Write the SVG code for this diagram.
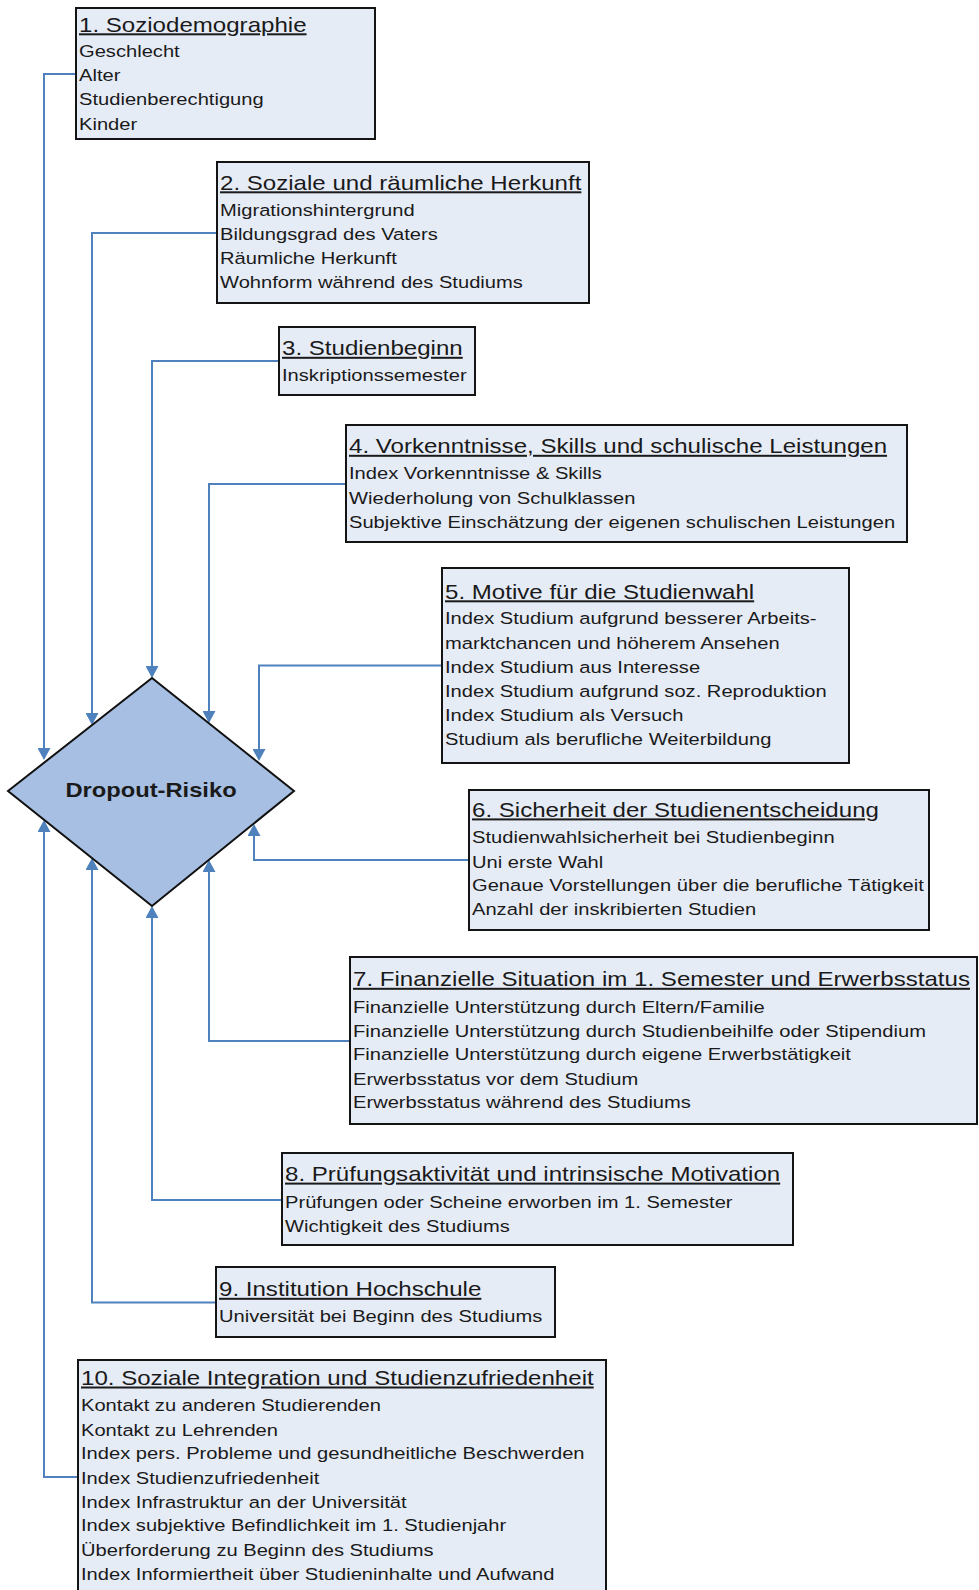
<svg xmlns="http://www.w3.org/2000/svg" width="979" height="1590" viewBox="0 0 979 1590">
<style>
.box{fill:#e6ecf6;stroke:#141414;stroke-width:2}
.dia{fill:#a7bfe2;stroke:#111;stroke-width:2}
text{font-family:"Liberation Sans",Arial,sans-serif;fill:#1a1a1a}
.h{font-size:20px;text-decoration:underline}
.b{font-size:17px}
.d{font-size:21px;font-weight:bold;text-anchor:middle}
.c{fill:none;stroke:#4f81bd;stroke-width:2}
</style>
<defs>
<marker id="ah" markerUnits="userSpaceOnUse" markerWidth="13" markerHeight="13" viewBox="0 0 12 13" refX="10" refY="6.5" orient="auto">
<path d="M0,0 L12,6.5 L0,13 Z" fill="#4f81bd"/>
</marker>
</defs>
<rect width="979" height="1590" fill="#fff"/>

<g id="connectors">
<path class="c" marker-end="url(#ah)" d="M76,74 H44 V758"/>
<path class="c" marker-end="url(#ah)" d="M217,233 H92 V723"/>
<path class="c" marker-end="url(#ah)" d="M279,361 H152 V676"/>
<path class="c" marker-end="url(#ah)" d="M346,484 H209 V721"/>
<path class="c" marker-end="url(#ah)" d="M442,665.5 H259 V759"/>
<path class="c" marker-end="url(#ah)" d="M469,860 H254 V826"/>
<path class="c" marker-end="url(#ah)" d="M350,1041 H209 V862"/>
<path class="c" marker-end="url(#ah)" d="M282,1200 H152 V908"/>
<path class="c" marker-end="url(#ah)" d="M216,1302.5 H92 V860"/>
<path class="c" marker-end="url(#ah)" d="M78,1477 H44 V822"/>
</g>

<g id="dropout">
<polygon class="dia" points="8,791 152,678 294,791 152,906"/>
<g transform="translate(151,797) scale(1.13,1)"><text class="d" x="0" y="0">Dropout-Risiko</text></g>
</g>

<g id="box1">
<rect class="box" x="76" y="8" width="299" height="131"/>
<text class="h" transform="translate(79,31.5) scale(1.205,1)">1. Soziodemographie</text>
<g transform="translate(79,0) scale(1.185,1)">
<text class="b" y="57">Geschlecht</text>
<text class="b" y="81.2">Alter</text>
<text class="b" y="105.4">Studienberechtigung</text>
<text class="b" y="129.6">Kinder</text>
</g>
</g>

<g id="box2">
<rect class="box" x="217" y="162" width="372" height="141"/>
<text class="h" transform="translate(220,189.5) scale(1.205,1)">2. Soziale und räumliche Herkunft</text>
<g transform="translate(220,0) scale(1.185,1)">
<text class="b" y="216">Migrationshintergrund</text>
<text class="b" y="240">Bildungsgrad des Vaters</text>
<text class="b" y="264">Räumliche Herkunft</text>
<text class="b" y="288.5">Wohnform während des Studiums</text>
</g>
</g>

<g id="box3">
<rect class="box" x="279" y="327" width="196" height="68"/>
<text class="h" transform="translate(282,355) scale(1.205,1)">3. Studienbeginn</text>
<g transform="translate(282,0) scale(1.185,1)">
<text class="b" y="381">Inskriptionssemester</text>
</g>
</g>

<g id="box4">
<rect class="box" x="346" y="425" width="561" height="117"/>
<text class="h" transform="translate(349,453) scale(1.205,1)">4. Vorkenntnisse, Skills und schulische Leistungen</text>
<g transform="translate(349,0) scale(1.185,1)">
<text class="b" y="479.3">Index Vorkenntnisse &amp; Skills</text>
<text class="b" y="503.6">Wiederholung von Schulklassen</text>
<text class="b" y="528">Subjektive Einschätzung der eigenen schulischen Leistungen</text>
</g>
</g>

<g id="box5">
<rect class="box" x="442" y="568" width="407" height="195"/>
<text class="h" transform="translate(445,598.5) scale(1.205,1)">5. Motive für die Studienwahl</text>
<g transform="translate(445,0) scale(1.185,1)">
<text class="b" y="624.3">Index Studium aufgrund besserer Arbeits-</text>
<text class="b" y="648.6">marktchancen und höherem Ansehen</text>
<text class="b" y="672.9">Index Studium aus Interesse</text>
<text class="b" y="697.2">Index Studium aufgrund soz. Reproduktion</text>
<text class="b" y="721.5">Index Studium als Versuch</text>
<text class="b" y="745.5">Studium als berufliche Weiterbildung</text>
</g>
</g>

<g id="box6">
<rect class="box" x="469" y="790" width="460" height="140"/>
<text class="h" transform="translate(472,816.6) scale(1.205,1)">6. Sicherheit der Studienentscheidung</text>
<g transform="translate(472,0) scale(1.185,1)">
<text class="b" y="843.5">Studienwahlsicherheit bei Studienbeginn</text>
<text class="b" y="867.8">Uni erste Wahl</text>
<text class="b" y="891.3">Genaue Vorstellungen über die berufliche Tätigkeit</text>
<text class="b" y="915.5">Anzahl der inskribierten Studien</text>
</g>
</g>

<g id="box7">
<rect class="box" x="350" y="957" width="627" height="167"/>
<text class="h" transform="translate(353,986) scale(1.205,1)">7. Finanzielle Situation im 1. Semester und Erwerbsstatus</text>
<g transform="translate(353,0) scale(1.185,1)">
<text class="b" y="1012.9">Finanzielle Unterstützung durch Eltern/Familie</text>
<text class="b" y="1037.2">Finanzielle Unterstützung durch Studienbeihilfe oder Stipendium</text>
<text class="b" y="1060.5">Finanzielle Unterstützung durch eigene Erwerbstätigkeit</text>
<text class="b" y="1084.9">Erwerbsstatus vor dem Studium</text>
<text class="b" y="1108.2">Erwerbsstatus während des Studiums</text>
</g>
</g>

<g id="box8">
<rect class="box" x="282" y="1153" width="511" height="92"/>
<text class="h" transform="translate(285,1180.8) scale(1.205,1)">8. Prüfungsaktivität und intrinsische Motivation</text>
<g transform="translate(285,0) scale(1.185,1)">
<text class="b" y="1207.7">Prüfungen oder Scheine erworben im 1. Semester</text>
<text class="b" y="1232">Wichtigkeit des Studiums</text>
</g>
</g>

<g id="box9">
<rect class="box" x="216" y="1267" width="339" height="70"/>
<text class="h" transform="translate(219,1296) scale(1.205,1)">9. Institution Hochschule</text>
<g transform="translate(219,0) scale(1.185,1)">
<text class="b" y="1322">Universität bei Beginn des Studiums</text>
</g>
</g>

<g id="box10">
<rect class="box" x="78" y="1360" width="528" height="250"/>
<text class="h" transform="translate(81,1384.7) scale(1.205,1)">10. Soziale Integration und Studienzufriedenheit</text>
<g transform="translate(81,0) scale(1.185,1)">
<text class="b" y="1411.5">Kontakt zu anderen Studierenden</text>
<text class="b" y="1435.9">Kontakt zu Lehrenden</text>
<text class="b" y="1459.5">Index pers. Probleme und gesundheitliche Beschwerden</text>
<text class="b" y="1483.6">Index Studienzufriedenheit</text>
<text class="b" y="1508">Index Infrastruktur an der Universität</text>
<text class="b" y="1531.5">Index subjektive Befindlichkeit im 1. Studienjahr</text>
<text class="b" y="1555.7">Überforderung zu Beginn des Studiums</text>
<text class="b" y="1580">Index Informiertheit über Studieninhalte und Aufwand</text>
</g>
</g>
</svg>
